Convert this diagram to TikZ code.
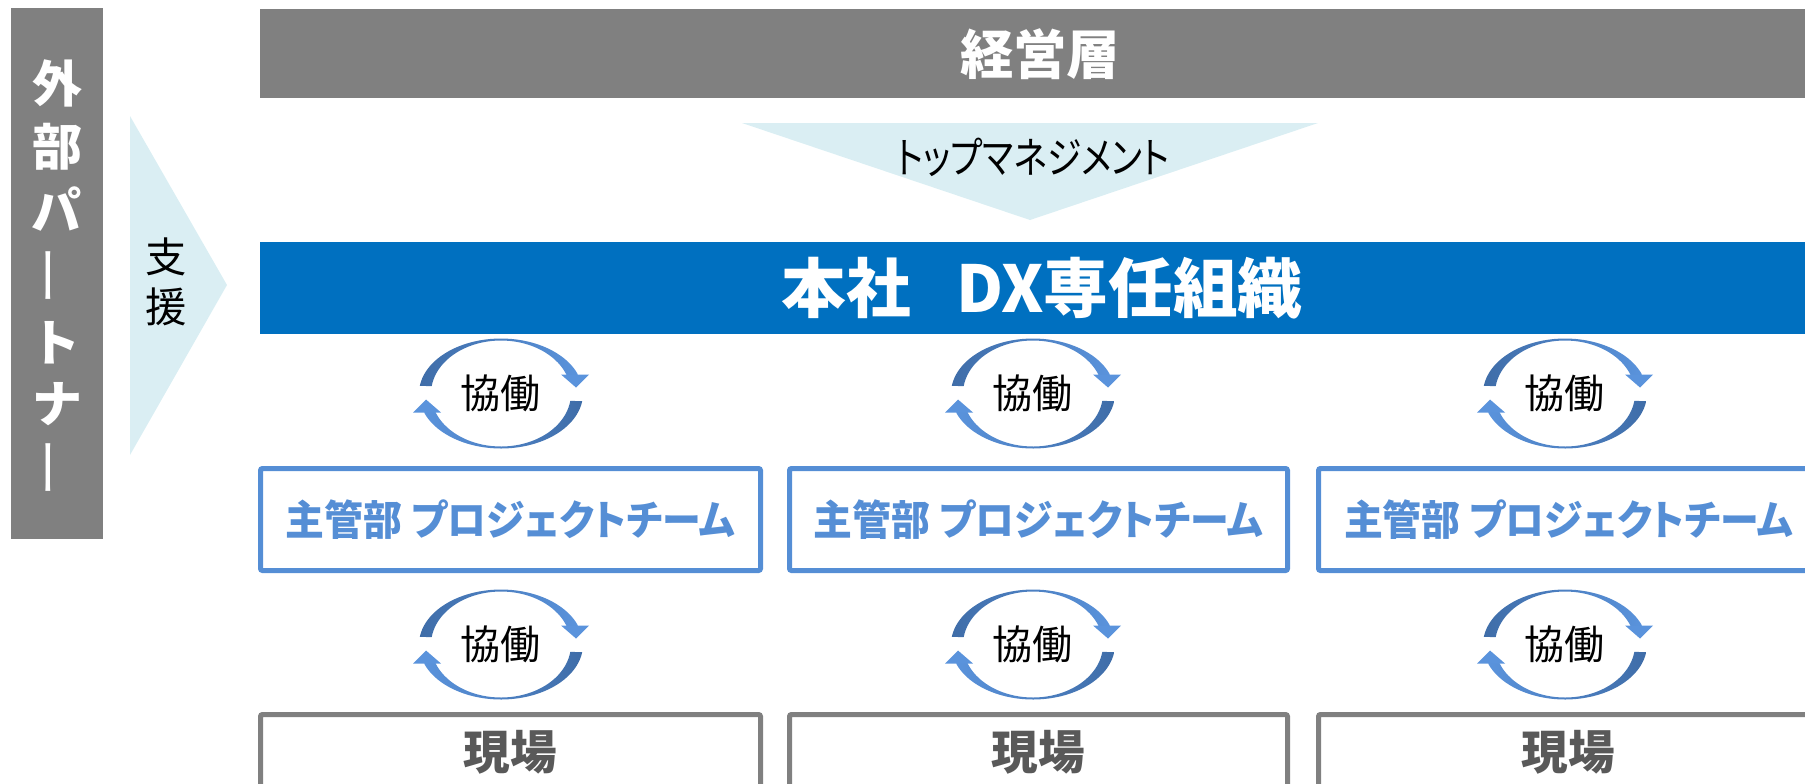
\documentclass[tikz,border=0pt]{standalone}
\usepackage{fontspec}
\setmainfont{Noto Sans CJK JP}[RawFeature=+palt]
\newfontfamily\tmfont{Noto Sans CJK JP}[RawFeature=+palt,FakeStretch=0.815]
\newfontfamily\ptfont{Noto Sans CJK JP}[RawFeature=+palt,FakeStretch=0.94]
\definecolor{gbar}{HTML}{808080}
\definecolor{dxblue}{HTML}{0070C0}
\definecolor{tri}{HTML}{DAEEF3}
\definecolor{ptblue}{HTML}{558ED5}
\definecolor{genba}{HTML}{595959}
\definecolor{cdark}{HTML}{3F6DA8}
\definecolor{clight}{HTML}{5A93DC}
\newcommand\vbar{\rotatebox[origin=c]{90}{\mdseries\scalebox{1.2}[1]{ー}}}
\begin{document}
\begin{tikzpicture}[x=0.75pt,y=-0.75pt,
  vtext/.style={text=white,font=\fontsize{37.5}{42}\selectfont\bfseries,inner sep=0pt},
  sentext/.style={text=black,font=\fontsize{31}{36}\selectfont,inner sep=0pt},
  bartext/.style={text=white,font=\fontsize{40}{46}\selectfont\bfseries,inner sep=0pt},
  dxtext/.style={text=white,font=\fontsize{48.5}{54}\selectfont\bfseries,inner sep=0pt},
  tmtext/.style={text=black,font=\tmfont\fontsize{32}{36}\selectfont,inner sep=0pt},
  cooptext/.style={text=black,font=\fontsize{30}{34}\selectfont,inner sep=0pt},
  pttext/.style={text=ptblue,font=\ptfont\fontsize{31}{36}\selectfont\bfseries,inner sep=0pt},
  gbtext/.style={text=genba,font=\fontsize{35}{40}\selectfont\bfseries,inner sep=0pt},
  ptbox/.style={draw=ptblue,line width=3.75pt,rounded corners=1.5pt},
  gbox/.style={draw=gbar,line width=3.75pt,rounded corners=1.5pt},
  coop/.pic={
    \shade[left color=cdark,right color=clight]
      plot[domain=172:20,samples=40] ({82*cos(\x)},{-55*sin(\x)})
      -- plot[domain=20:172,samples=40] ({70*cos(\x)},{-53*sin(\x)}) -- cycle;
    \fill[clight] (60,-19) -- (88,-19) -- (75,-6) -- cycle;
    \shade[left color=clight,right color=cdark]
      plot[domain=-8:-160,samples=40] ({82*cos(\x)},{-55*sin(\x)})
      -- plot[domain=-160:-8,samples=40] ({70*cos(\x)},{-53*sin(\x)}) -- cycle;
    \fill[clight] (-60,19) -- (-88,19) -- (-75,6) -- cycle;
    \node[cooptext] (-t) at (-1,0) {協働};
  }]
\useasboundingbox (0,0) rectangle (1805,783);
\clip (0,0) rectangle (1805,783);

% left partner bar
\fill[gbar] (11,8) rectangle (103,539);
\node[vtext] (p1) at (57,83) {外};
\node[vtext] (p2) at (57,147) {部};
\node[vtext] (p3) at (57,209) {パ};
\node[vtext] (p4) at (57,276) {\vbar};
\node[vtext] (p5) at (57,343) {ト};
\node[vtext] (p6) at (57,404) {ナ};
\node[vtext] (p7) at (57,468) {\vbar};

% support triangle
\fill[tri] (130,116) -- (227,285) -- (130,455) -- cycle;
\node[sentext] (s1) at (166,257) {支};
\node[sentext] (s2) at (166,307) {援};

% management bar
\fill[gbar] (260,9) rectangle (1805,98);
\node[bartext] (keiei) at (1040,54) {経営層};

% top management triangle
\fill[tri] (742,123) -- (1318,123) -- (1030,220) -- cycle;
\node[tmtext] (tm) at (1033,157) {トップマネジメント};

% DX bar
\fill[dxblue] (260,242) rectangle (1805,334);
\node[dxtext] (dx) at (1042,288) {本社\hspace{0.7em}DX専任組織};

% project team boxes
\draw[ptbox] (260.5,468.5) rectangle (760.5,570.5);
\draw[ptbox] (789.5,468.5) rectangle (1287.5,570.5);
\draw[ptbox] (1318.5,468.5) rectangle (1830,570.5);
\node[pttext] (pt1) at (510.5,520) {主管部 プロジェクトチーム};
\node[pttext] (pt2) at (1038.5,520) {主管部 プロジェクトチーム};
\node[pttext] (pt3) at (1568.5,520) {主管部 プロジェクトチーム};

% genba boxes
\draw[gbox] (260.5,714.5) rectangle (760.5,830);
\draw[gbox] (789.5,714.5) rectangle (1287.5,830);
\draw[gbox] (1318.5,714.5) rectangle (1830,830);
\node[gbtext] (g1) at (510.5,752) {現場};
\node[gbtext] (g2) at (1038.5,752) {現場};
\node[gbtext] (g3) at (1568.5,752) {現場};

% cooperation cycles
\pic (c1) at (501,393.5) {coop};
\pic (c2) at (1033,393.5) {coop};
\pic (c3) at (1565,393.5) {coop};
\pic (d1) at (501,644.5) {coop};
\pic (d2) at (1033,644.5) {coop};
\pic (d3) at (1565,644.5) {coop};
\end{tikzpicture}
\end{document}
